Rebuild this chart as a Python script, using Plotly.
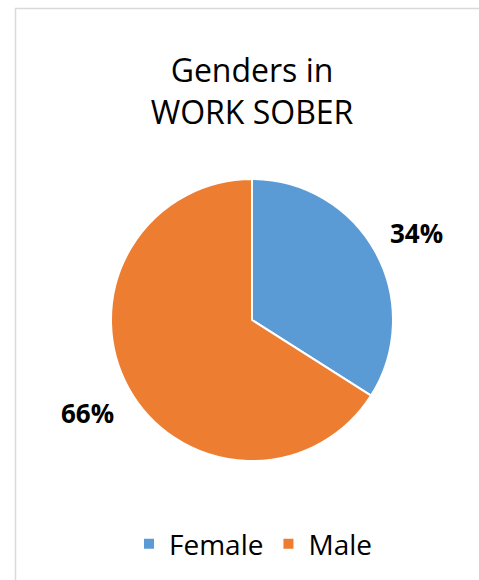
import math
import plotly.graph_objects as go

# Gender split
labels = ["Female", "Male"]
shares = [34, 66]
colors = ["#5B9BD5", "#ED7D31"]

W, H = 479, 580
cx, cy, rad = 252, 320, 141
FONT = "Open Sans, sans-serif"

fig = go.Figure(
    go.Pie(
        labels=labels,
        values=shares,
        sort=False,
        direction="clockwise",
        rotation=0,
        marker=dict(colors=colors, line=dict(color="white", width=2)),
        textinfo="none",
        hoverinfo="label+percent",
        domain=dict(
            x=[(cx - rad) / W, (cx + rad) / W],
            y=[1 - (cy + rad) / H, 1 - (cy - rad) / H],
        ),
    )
)

# Percentage labels placed outside each slice along its mid-angle
total = sum(shares)
acc = 0
for v in shares:
    mid = (acc + v / 2) / total * 2 * math.pi
    acc += v
    d = rad * 1.33
    x = cx + d * math.sin(mid)
    y = cy - d * math.cos(mid) + 3
    fig.add_annotation(
        x=x / W, y=1 - y / H, xref="paper", yref="paper",
        text=f"<b>{round(v / total * 100)}%</b>", showarrow=False,
        font=dict(size=26, color="#000000", family=FONT),
        xanchor="center", yanchor="middle",
    )

fig.update_layout(
    width=W, height=H,
    margin=dict(l=0, r=0, t=0, b=0),
    paper_bgcolor="white",
    title=dict(
        text="Genders in<br>WORK SOBER",
        x=cx / W, xanchor="center",
        y=1 - 82 / H, yanchor="top",
        font=dict(size=32, color="#000000", family=FONT),
    ),
    legend=dict(
        orientation="h", x=253 / W, xanchor="center",
        y=1 - 544 / H, yanchor="middle",
        font=dict(size=28, color="#000000", family=FONT),
        itemsizing="constant",
    ),
    shapes=[
        dict(type="rect", xref="paper", yref="paper",
             x0=15.5 / W, x1=1.05, y0=-0.05, y1=1 - 8.5 / H,
             line=dict(color="#D9D9D9", width=1.5), fillcolor="rgba(0,0,0,0)"),
    ],
)

fig.write_html("out.html")
